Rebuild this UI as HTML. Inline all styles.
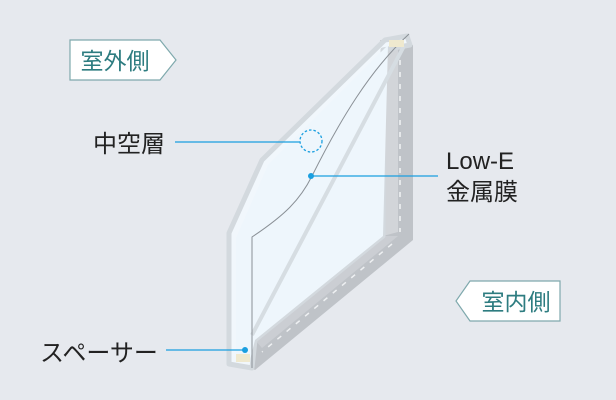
<!DOCTYPE html>
<html><head><meta charset="utf-8"><style>
body{margin:0;background:#e6e9ee;}
svg{display:block}
text{font-family:"Liberation Sans","Noto Sans CJK JP",sans-serif;}
</style></head><body>
<svg width="616" height="400" viewBox="0 0 616 400" xmlns="http://www.w3.org/2000/svg">
<rect width="616" height="400" fill="#e6e9ee"/>
<!-- back frame -->
<polygon points="380,40 413,45 413,240 255,370 248,366 250,330 383,232 383,50" fill="#bfc3c8"/>
<polygon points="383,50 398,47 398,232 383,236" fill="#d2d5d9"/>
<polygon points="255,340 383,236 398,236 262,348" fill="#cbced3"/>
<line x1="400" y1="60" x2="400" y2="232" stroke="#f2f4f6" stroke-width="1.5" stroke-dasharray="5,7"/>
<line x1="392" y1="244" x2="262" y2="352" stroke="#eef0f2" stroke-width="1.5" stroke-dasharray="5,7"/>
<!-- glass front -->
<polygon points="229,233 262,160 385,40 407,36 410,45 383,50 383,236 255,340 252,368 229,364" fill="#f1f7fc" stroke="#d3d9de" stroke-width="5" stroke-linejoin="round"/>
<polygon points="236,238 268,165 388,45 383,236 255,340 250,360 236,360" fill="#eef6fc"/>
<!-- inner diagonal edge -->
<line x1="252" y1="335" x2="404" y2="46" stroke="#d6dde2" stroke-width="4"/>
<!-- low-e curve -->
<path d="M252,368 L252,237 C285,215 300,200 312,176 C340,120 370,70 409,34" fill="none" stroke="#8a9096" stroke-width="1"/>
<!-- spacers -->
<rect x="236" y="354" width="14" height="8" fill="#efe9cf"/>
<rect x="389" y="40" width="15" height="7" fill="#efe9cf"/>
<!-- labels -->
<polygon points="70,40 160,40 176,60 160,80 70,80" fill="#fff" stroke="#7fa9ad" stroke-width="1.2"/>
<text x="115" y="69" font-size="23" fill="#2d7c80" text-anchor="middle">室外側</text>
<polygon points="470,281 560,281 560,321 470,321 456,301" fill="#fff" stroke="#7fa9ad" stroke-width="1.2"/>
<text x="516" y="310" font-size="23" fill="#2d7c80" text-anchor="middle">室内側</text>
<text x="93" y="152" font-size="24" fill="#222">中空層</text>
<line x1="175" y1="142" x2="300" y2="142" stroke="#1a9fe0" stroke-width="1.3"/>
<circle cx="311" cy="141" r="11" fill="none" stroke="#1a9fe0" stroke-width="1.3" stroke-dasharray="2.5,2"/>
<line x1="311" y1="176" x2="438" y2="176" stroke="#1a9fe0" stroke-width="1.3"/>
<circle cx="311" cy="176" r="3" fill="#1a9fe0"/>
<text x="446" y="169" font-size="24" fill="#222">Low-E</text>
<text x="446" y="200" font-size="24" fill="#222">金属膜</text>
<text x="40" y="361" font-size="24" fill="#222">スペーサー</text>
<line x1="166" y1="350" x2="245" y2="350" stroke="#1a9fe0" stroke-width="1.3"/>
<circle cx="245" cy="350" r="3" fill="#1a9fe0"/>
</svg>
</body></html>
